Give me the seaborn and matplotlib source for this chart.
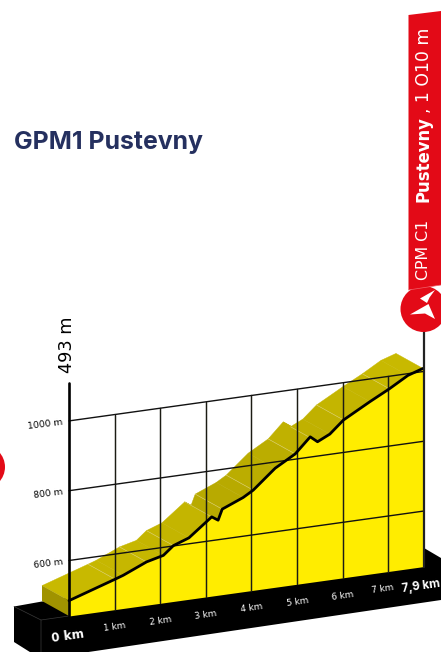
import numpy as np
import pandas as pd
import matplotlib
matplotlib.use('Agg')
import matplotlib.pyplot as plt
from matplotlib.patches import Circle, Polygon
import seaborn as sns

# Profile
km = [0, 1.01, 1.19, 1.70, 2.07, 2.29, 2.63, 3.13, 3.27, 3.36, 3.82, 4.04, 4.52,
      4.96, 5.29, 5.45, 5.72, 6.02, 6.60, 7.03, 7.51, 7.9]
altitude = [485, 528, 536, 565, 577, 601, 617, 668, 656, 686, 711, 728, 782,
            815, 858, 841, 858, 893, 935, 964, 995, 1009]
km_ticks = [0, 1, 2, 3, 4, 5, 6, 7, 7.9]
km_labels = ['0 km', '1 km', '2 km', '3 km', '4 km', '5 km', '6 km', '7 km', '7,9 km']
alt_ticks = [600, 800, 1000]
# shade of the side band for each km
band_shades = ['#C8B900', '#C6B700', '#C4B500', '#B8AA00', '#BBAD00', '#C0B100', '#C4B500', '#C8B900']

BASE_ALT = 441
PX_PER_M = 0.349
SLOPE = 0.1394
DX, DY = -27, -15
WIDE = ['DejaVu Sans']


def to_px(k, a):
    # fake 3d projection, km and metres to image pixels
    x = np.interp(k, km_ticks, [69, 114.6, 160.2, 205.8, 251.4, 297, 342.6, 388.2, 423])
    y = 616 - SLOPE * (x - 69) - (np.asarray(a, dtype=float) - BASE_ALT) * PX_PER_M
    return x, y


sns.set_theme(style='white')
plt.rcParams['font.family'] = ['Inter', 'DejaVu Sans']

fig = plt.figure(figsize=(4.41, 6.52), dpi=100)
ax = fig.add_axes([0, 0, 1, 1])
ax.set_xlim(0, 441)
ax.set_ylim(652, 0)
ax.axis('off')

px, py = to_px(np.array(km), np.array(altitude))
bx, by = to_px(np.array(km), BASE_ALT)
df = pd.DataFrame({'x': px, 'y': py})

# black base block
ax.add_patch(Polygon([(14, 606.5), (42, 601.5), (424, 548), (441, 558), (441, 600), (41, 659), (14, 642)],
                     closed=True, fc='black', ec='none', zorder=1))
ax.plot([14, 41, 41], [606.5, 620, 652], color='#3a3a3a', lw=0.5, zorder=1.1)
ax.plot([41, 69], [620, 616], color='#3a3a3a', lw=0.5, zorder=1.1)

# side band, back of the profile
for i in range(len(km) - 1):
    shade = band_shades[min(int((km[i] + km[i + 1]) / 2), 7)]
    ax.add_patch(Polygon([(px[i], py[i]), (px[i + 1], py[i + 1]), (px[i + 1] + DX, py[i + 1] + DY), (px[i] + DX, py[i] + DY)],
                         closed=True, fc=shade, ec=shade, lw=0.3, zorder=2))
ax.add_patch(Polygon([(px[0], py[0]), (bx[0], by[0]), (bx[0] + DX, by[0] + DY), (px[0] + DX, py[0] + DY)],
                     closed=True, fc='#A09300', ec='none', zorder=2))
for i in range(1, len(km) - 1, 2):
    ax.plot([px[i], px[i] + DX], [py[i], py[i] + DY], color='#DDD27A', lw=0.4, zorder=2.1)

# yellow front face
ax.fill_between(px, py, by, color='#FFED00', lw=0, zorder=3)

# grid
for t in km_ticks[1:-1]:
    x0, y0 = to_px(t, BASE_ALT)
    x1, y1 = to_px(t, 1000)
    ax.plot([x0, x1], [y0, y1], color='#1c1c14', lw=1.05, zorder=4)
for a in alt_ticks:
    x0, y0 = to_px(0, a)
    x1, y1 = to_px(7.9, a)
    ax.plot([x0, x1], [y0, y1], color='#111111', lw=1.0, zorder=4)

# profile line
sns.lineplot(data=df, x='x', y='y', color='black', lw=2.0, sort=False, errorbar=None, ax=ax, zorder=5)
ax.set_xlim(0, 441)
ax.set_ylim(652, 0)
ax.axis('off')

# axes of the chart
ax.plot([69, 69], [616.5, 382.5], color='black', lw=1.9, zorder=6)
ax.plot([424, 424], [567, 320], color='#222222', lw=1.6, zorder=6)

# km labels
label_y = [636, 627, 621, 614.5, 608, 602, 595.5, 589]
label_x = [68, 115, 161, 206, 252, 298, 343, 383]
for i, lab in enumerate(km_labels[:-1]):
    big = lab == '0 km'
    ax.text(label_x[i], label_y[i], lab, color='white', ha='center', va='center', rotation=8,
            rotation_mode='anchor', fontsize=8.6 if big else 6.4, fontweight='bold' if big else 'normal',
            family=WIDE, zorder=7)
ax.text(440, 583.5, km_labels[-1], color='white', ha='right', va='center', rotation=8,
        rotation_mode='anchor', fontsize=8.4, fontweight='bold', zorder=7)

# altitude labels
for a in alt_ticks:
    x0, y0 = to_px(0, a)
    ax.text(63, y0 + 1, f'{a} m', color='black', ha='right', va='center', rotation=7,
            rotation_mode='anchor', fontsize=6.6, family=WIDE, zorder=7)
ax.text(67.5, 344.5, '493 m', color='black', ha='center', va='center', rotation=90, fontsize=12.8, family=WIDE, zorder=7)

# title
ax.text(14, 142.5, 'GPM1 Pustevny', color='#25305F', ha='left', va='center', fontsize=17.9, fontweight='bold', zorder=7)

# red marks
ax.add_patch(Circle((-17, 467), 22, fc='#E30A17', ec='none', zorder=7))
ax.add_patch(Polygon([(408.5, 15), (441, 11), (441, 285), (408.5, 290)], closed=True, fc='#E30A17', ec='none', zorder=7))
ax.add_patch(Circle((423.5, 309), 23, fc='#E30A17', ec='none', zorder=7.5))
ax.plot([408.5, 441], [290, 285], color='#F0606A', lw=0.5, zorder=7.6)
ax.add_patch(Polygon([(410, 314.5), (428.5, 304), (435, 319), (425, 313.5)], closed=True, fc='white', ec='none', zorder=8))
ax.add_patch(Polygon([(420, 298.5), (435, 290), (429.5, 297.5), (427, 303)], closed=True, fc='white', ec='none', zorder=8))

# banner text
ax.text(424, 250, 'CPM C1', color='white', ha='center', va='center', rotation=90, fontsize=11.4, family=WIDE, zorder=8)
ax.text(424, 159.5, 'Pustevny', color='white', ha='center', va='center', rotation=90, fontsize=11.9, fontweight='bold', family=WIDE, zorder=8)
ax.text(424, 70, ', 1 O10 m', color='white', ha='center', va='center', rotation=90, fontsize=12.4, family=WIDE, zorder=8)

fig.savefig('out.png', dpi=100)
